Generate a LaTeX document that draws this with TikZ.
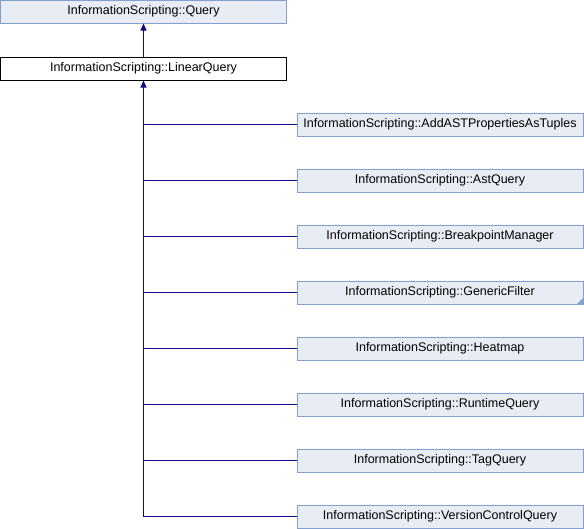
\documentclass[tikz,border=0pt]{standalone}
\usepackage{fontspec}
\setmainfont{Liberation Sans}
\usetikzlibrary{arrows.meta}
\definecolor{boxfill}{HTML}{E8ECF5}
\definecolor{boxline}{HTML}{84A0D0}
\definecolor{edge}{HTML}{0C0C8C}
\begin{document}
\begin{tikzpicture}[x=1pt,y=-1pt,
  cls/.style={draw=boxline,fill=boxfill,line width=1pt,minimum width=286pt,minimum height=23pt,inner sep=0pt,font=\fontsize{12.5}{14}\selectfont},
  cur/.style={cls,draw=black,fill=white},
  inh/.style={draw=edge,line width=1pt},
  tip/.style={-{Triangle[length=7pt,width=6pt]}}
]
\useasboundingbox (0,0) rectangle (584,528);
\node[cls] (q) at (143.5,11.5) {InformationScripting::Query};
\node[cur] (lq) at (143.5,68.5) {InformationScripting::LinearQuery};
\draw[inh,tip] (lq.north) -- (q.south);
\foreach \n/\t/\y in {a/AddASTPropertiesAsTuples/124.5, b/AstQuery/180.5, c/BreakpointManager/236.5, d/GenericFilter/292.5, e/Heatmap/348.5, f/RuntimeQuery/404.5, g/TagQuery/460.5, h/VersionControlQuery/516.5}{
  \node[cls] (\n) at (440,\y) {InformationScripting::\t};
}
\coordinate (trunk) at (143.5,516.5);
\draw[inh,tip] (h.west) -- (trunk) -- (lq.south);
\foreach \n in {a,b,c,d,e,f,g}{
  \draw[inh] (\n.west) -- (trunk |- \n.west);
}
\fill[boxline] (d.south east) ++(-0.5,-0.5) -- ++(0,-6) -- ++(-6,6) -- cycle;
\end{tikzpicture}
\end{document}
